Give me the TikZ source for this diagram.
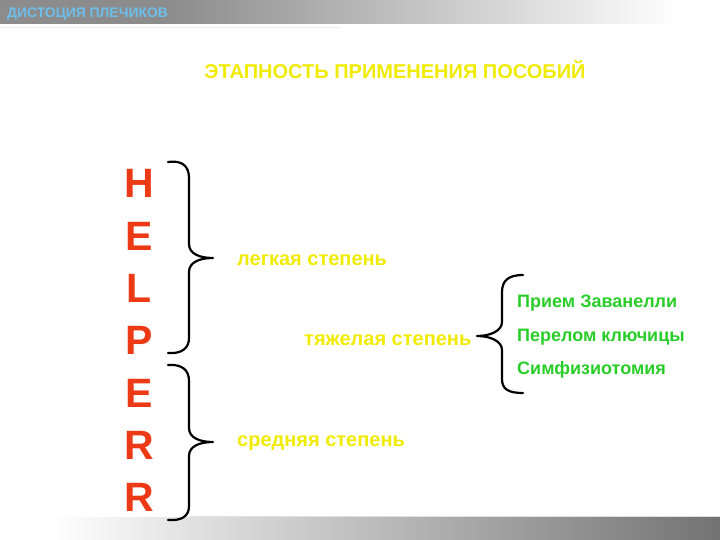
\documentclass[tikz,border=0pt]{standalone}
\usepackage{fontspec}
\setmainfont{Liberation Sans}
\definecolor{helpred}{RGB}{236,58,22}
\definecolor{titleyel}{RGB}{240,235,0}
\definecolor{grn}{RGB}{40,205,40}
\definecolor{topblue}{RGB}{110,190,235}
\begin{document}
\begin{tikzpicture}[x=1pt,y=-1pt,
  letter/.style={anchor=base,inner sep=0pt,text=helpred,font=\fontsize{41}{41}\selectfont\bfseries},
  stage/.style={anchor=base west,inner sep=0pt,text=titleyel,font=\fontsize{20}{20}\selectfont\bfseries},
  method/.style={anchor=base west,inner sep=0pt,text=grn,font=\fontsize{18}{18}\selectfont\bfseries},
  bracepath/.style={draw=black,line width=2.2pt,line cap=round,line join=round}]
\useasboundingbox (0,0) rectangle (720,540);
% top bar
\fill[black!45] (0,0) rectangle (170,24);
\shade[left color=black!45,right color=white] (170,0) rectangle (680,24);
\fill[white] (680,0) rectangle (720,24);
\draw[black!8,line width=1pt] (0,28) -- (340,28);
\node[anchor=base west,inner sep=0pt,text=topblue,font=\fontsize{13.9}{14}\selectfont\bfseries] (top) at (7,17.5) {ДИСТОЦИЯ ПЛЕЧИКОВ};
% bottom bar
\shade[left color=white,right color=black!55] (50,517) rectangle (720,540);
\draw[black!12,line width=1pt] (190,516) -- (720,516);
% title
\node[anchor=base,inner sep=0pt,text=titleyel,font=\fontsize{20}{20}\selectfont\bfseries] (title) at (395,79) {ЭТАПНОСТЬ ПРИМЕНЕНИЯ ПОСОБИЙ};
% letters
\node[letter] (l1) at (139,198) {H};
\node[letter] (l2) at (139,250.3) {E};
\node[letter] (l3) at (139,302.6) {L};
\node[letter] (l4) at (139,354.9) {P};
\node[letter] (l5) at (139,407.2) {E};
\node[letter] (l6) at (139,459.5) {R};
\node[letter] (l7) at (139,511.8) {R};
% left braces
\coordinate (b1tip) at (213,258);
\coordinate (b2tip) at (213,442);
\path[bracepath] (168,162) .. controls (182,160) and (189,166) .. (189,178)
  -- (189,244) .. controls (189,254) and (200,258) .. (b1tip)
  .. controls (200,258) and (189,262) .. (189,272)
  -- (189,338) .. controls (189,348) and (182,354) .. (168,353);
\path[bracepath] (168,365) .. controls (182,364) and (189,370) .. (189,381)
  -- (189,428) .. controls (189,438) and (200,442) .. (b2tip)
  .. controls (200,442) and (189,446) .. (189,456)
  -- (189,506) .. controls (189,516) and (182,521) .. (168,520);
% stages
\node[stage] (light) at (237,265) {легкая степень};
\node[stage] (heavy) at (304,345) {тяжелая степень};
\node[stage] (mid) at (237,446) {средняя степень};
% right brace
\coordinate (b3tip) at (477,336);
\path[bracepath] (523,275) .. controls (508,275) and (502,281) .. (502,292)
  -- (502,322) .. controls (502,331) and (490,336) .. (b3tip)
  .. controls (490,336) and (502,341) .. (502,350)
  -- (502,379) .. controls (502,389) and (508,393) .. (523,393);
% methods
\node[method] (m1) at (517,307) {Прием Заванелли};
\node[method] (m2) at (517,341) {Перелом ключицы};
\node[method] (m3) at (517,374) {Симфизиотомия};
\end{tikzpicture}
\end{document}
